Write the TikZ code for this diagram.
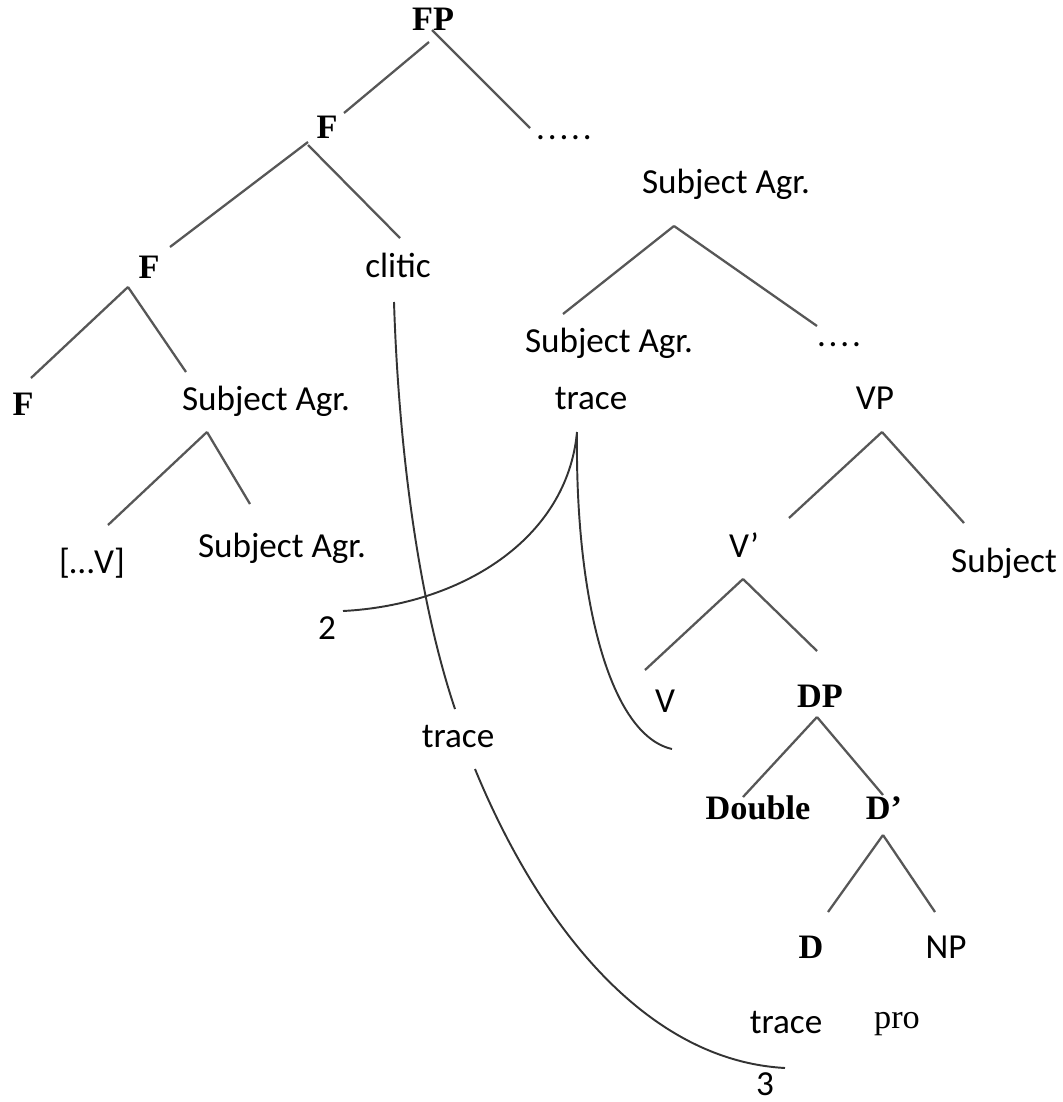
\documentclass[tikz,border=0pt]{standalone}
\usepackage{fontspec}
\newfontfamily\calib{Carlito}
\newfontfamily\camb{Liberation Serif}
\usetikzlibrary{calc}
\definecolor{cbranch}{HTML}{575757}
\definecolor{cmove}{HTML}{333333}

\begin{document}
\begin{tikzpicture}[x=0.02cm, y=-0.02cm, every node/.style={inner sep=0pt, anchor=base}, lab/.style={font=\calib\fontsize{20}{22}\selectfont}, cat/.style={font=\camb\bfseries\fontsize{19.5}{21}\selectfont}, word/.style={font=\camb\fontsize{19.5}{21}\selectfont}, branch/.style={draw=cbranch, line width=1.3pt}, move/.style={draw=cmove, line width=1.1pt}]
    \useasboundingbox (0,0) rectangle (1062,1102);
    % left part of the tree
    \node[cat] (FP) at (433,31) {FP};
    \node[cat] (F1) at (327,138) {F};
    \node[lab] (dots1) at (564,139) {.\kern1.6pt.\kern1.6pt.\kern1.6pt.\kern1.6pt.};
    \node[cat] (F2) at (149,278) {F};
    \node[lab] (clitic) at (398,277) {clitic};
    \node[cat] (F3) at (23,415) {F};
    \node[lab] (SAl) at (266,410) {Subject Agr.};
    \node[lab] (brV) at (92,573) {[…V]};
    \node[lab] (SAb) at (282,557) {Subject Agr.};
    \node[lab] (two) at (327,639) {2};
    \node[lab] (tr2) at (458,747) {trace};
    % right part of the tree
    \node[lab] (SAt) at (726,193) {Subject Agr.};
    \node[lab] (SAm) at (609,352) {Subject Agr.};
    \node[lab] (dots2) at (839,346) {.\kern1.6pt.\kern1.6pt.\kern1.6pt.};
    \node[lab] (tr1) at (591,409) {trace};
    \node[lab] (VP) at (875,409) {VP};
    \node[lab] (Vbar) at (744,557) {V’};
    \node[lab] (subj) at (1004,572) {Subject};
    \node[lab] (V) at (665,712) {V};
    \node[cat] (DP) at (820,707) {DP};
    \node[cat] (dbl) at (758,819) {Double};
    \node[cat] (Dbar) at (884,819) {D’};
    \node[cat] (D) at (811,958) {D};
    \node[lab] (NP) at (946,958) {NP};
    \node[lab] (tr3) at (786,1033) {trace};
    \node[word] (pro) at (897,1028) {pro};
    \node[lab] (three) at (765,1095) {3};
    \coordinate (Vend) at ($(V.base)+(7,37)$);
    % branches
    \draw[branch] ($(FP.base)+(-4,11)$) -- ($(F1.base)+(17,-25)$);
    \draw[branch] ($(FP.base)+(-1,-1)$) -- ($(dots1.base)+(-34,-11)$);
    \draw[branch] ($(F1.base)+(-19,4)$) -- ($(F2.base)+(21,-31)$);
    \draw[branch] ($(F1.base)+(-19,7)$) -- ($(clitic.base)+(2,-39)$);
    \draw[branch] ($(F2.base)+(-21,9)$) -- ($(F3.base)+(8,-37)$);
    \draw[branch] ($(F2.base)+(-21,9)$) -- ($(SAl.base)+(-80,-38)$);
    \draw[branch] ($(SAl.base)+(-59,22)$) -- ($(brV.base)+(16,-48)$);
    \draw[branch] ($(SAl.base)+(-59,22)$) -- ($(SAb.base)+(-32,-53)$);
    \draw[branch] ($(SAt.base)+(-52,33)$) -- ($(SAm.base)+(-46,-38)$);
    \draw[branch] ($(SAt.base)+(-52,33)$) -- ($(dots2.base)+(-22,-20)$);
    \draw[branch] ($(VP.base)+(7,23)$) -- ($(Vbar.base)+(45,-39)$);
    \draw[branch] ($(VP.base)+(7,23)$) -- ($(subj.base)+(-40,-49)$);
    \draw[branch] ($(Vbar.base)+(-1,22)$) -- ($(V.base)+(-20,-42)$);
    \draw[branch] ($(Vbar.base)+(-1,22)$) -- ($(DP.base)+(-3,-56)$);
    \draw[branch] ($(DP.base)+(-3,10)$) -- ($(dbl.base)+(-15,-22)$);
    \draw[branch] ($(DP.base)+(-3,10)$) -- ($(Dbar.base)+(-1,-24)$);
    \draw[branch] ($(Dbar.base)+(-1,16)$) -- ($(D.base)+(17,-46)$);
    \draw[branch] ($(Dbar.base)+(-1,16)$) -- ($(NP.base)+(-11,-46)$);
    % movement lines
    \draw[move] ($(clitic.base)+(-4,25)$) .. controls +(4,128) and +(-40,-119) .. ($(tr2.base)+(-3,-38)$);
    \draw[move] ($(tr1.base)+(-14,23)$) .. controls +(-10,108) and +(117,-6) .. ($(two.base)+(16,-28)$);
    \draw[move] ($(tr1.base)+(-14,23)$) .. controls +(-2,168) and +(-62,-14) .. (Vend);
    \draw[move] ($(tr2.base)+(17,22)$) .. controls +(60,146) and +(-145,-8) .. ($(three.base)+(20,-27)$);
  \end{tikzpicture}
\end{document}
